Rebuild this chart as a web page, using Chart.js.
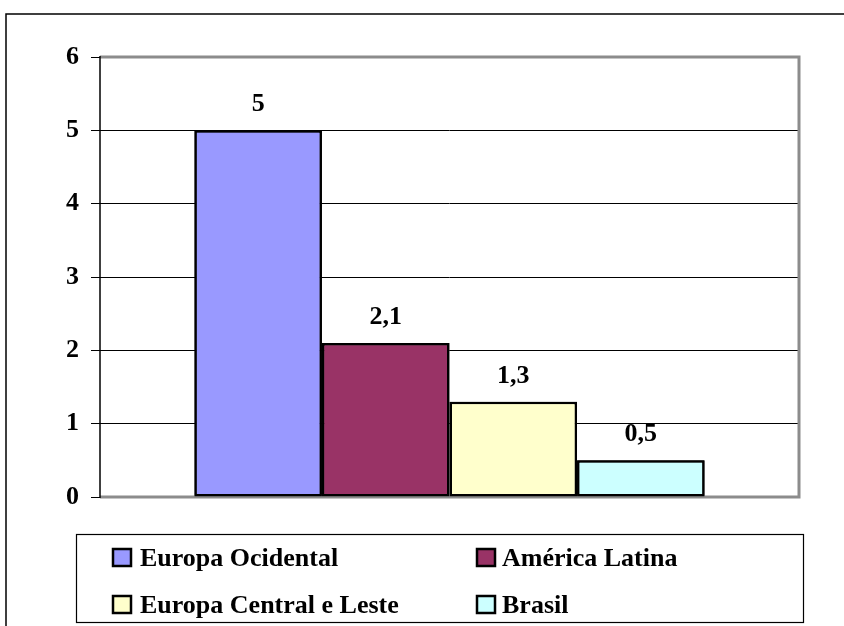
<!DOCTYPE html>
<html>
<head>
<meta charset="utf-8">
<script src="https://cdn.jsdelivr.net/npm/chart.js@4"></script>
<style>
html,body{margin:0;padding:0;background:#fff;}
#wrap{width:844px;height:626px;position:relative;}
</style>
</head>
<body>
<div id="wrap"><canvas id="c" width="844" height="626"></canvas></div>
<script>
const categories = [''];
const seriesNames = ['Europa Ocidental', 'América Latina', 'Europa Central e Leste', 'Brasil'];
const seriesValues = [5, 2.1, 1.3, 0.5];
const valueLabels = ['5', '2,1', '1,3', '0,5'];
const seriesColors = ['#9999FF', '#993366', '#FFFFCC', '#CCFFFF'];
const yTicks = [0, 1, 2, 3, 4, 5, 6];

const FONT = "'Liberation Serif', 'Times New Roman', serif";

const datasets = seriesNames.map((n, i) => ({
  label: n,
  data: [seriesValues[i]],
  backgroundColor: seriesColors[i],
  borderColor: '#000',
  borderWidth: 2.5,
  borderSkipped: false,
  categoryPercentage: 0.73,
  barPercentage: 1.0
}));

const decor = {
  id: 'decor',
  beforeDraw(chart) {
    const ctx = chart.ctx;
    ctx.save();
    ctx.fillStyle = '#fff';
    ctx.fillRect(0, 0, chart.width, chart.height);
    ctx.strokeStyle = '#000';
    ctx.lineWidth = 1.5;
    ctx.beginPath();
    ctx.moveTo(6, 626);
    ctx.lineTo(6, 14);
    ctx.lineTo(844, 14);
    ctx.stroke();
    ctx.restore();
  },
  afterDatasetsDraw(chart) {
    const ctx = chart.ctx;
    const a = chart.chartArea;
    ctx.save();
    ctx.strokeStyle = '#8c8c8c';
    ctx.lineWidth = 3;
    ctx.beginPath();
    ctx.moveTo(a.left, a.top);
    ctx.lineTo(a.right, a.top);
    ctx.lineTo(a.right, a.bottom);
    ctx.lineTo(a.left, a.bottom);
    ctx.stroke();
    chart.data.datasets.forEach((ds, i) => {
      chart.getDatasetMeta(i).data.forEach(el => el.draw(ctx));
    });
    ctx.strokeStyle = '#000';
    ctx.lineWidth = 1.5;
    ctx.beginPath();
    ctx.moveTo(a.left, a.top - 1);
    ctx.lineTo(a.left, a.bottom + 1);
    ctx.stroke();
    ctx.fillStyle = '#000';
    ctx.font = 'bold 26px ' + FONT;
    ctx.textAlign = 'center';
    ctx.textBaseline = 'alphabetic';
    chart.data.datasets.forEach((ds, i) => {
      const el = chart.getDatasetMeta(i).data[0];
      ctx.fillText(valueLabels[i], el.x, el.y - 19);
    });
    ctx.strokeStyle = '#000';
    ctx.lineWidth = 1.2;
    ctx.strokeRect(76.5, 534.5, 727, 88);
    const pos = [[113, 549, 140, 566], [477, 549, 502, 566], [113, 596, 140, 613], [477, 596, 502, 613]];
    ctx.textAlign = 'left';
    ctx.font = 'bold 26px ' + FONT;
    chart.data.datasets.forEach((ds, i) => {
      const p = pos[i];
      ctx.fillStyle = ds.backgroundColor;
      ctx.fillRect(p[0], p[1], 18, 17);
      ctx.lineWidth = 2.5;
      ctx.strokeStyle = '#000';
      ctx.strokeRect(p[0], p[1], 18, 17);
      ctx.fillStyle = '#000';
      ctx.fillText(ds.label, p[2], p[3]);
    });
    ctx.restore();
  }
};

new Chart(document.getElementById('c'), {
  type: 'bar',
  data: { labels: categories, datasets },
  options: {
    responsive: false,
    animation: false,
    layout: { padding: { left: 0, top: 57, right: 45, bottom: 129 } },
    plugins: { legend: { display: false }, tooltip: { enabled: false } },
    scales: {
      x: { display: false },
      y: {
        min: yTicks[0],
        max: yTicks[yTicks.length - 1],
        afterFit(s) { s.width = 100; },
        afterBuildTicks(s) { s.ticks = yTicks.map(v => ({ value: v })); },
        ticks: {
          stepSize: 1,
          padding: 12,
          color: '#000',
          font: { family: FONT, size: 26, weight: 'bold' }
        },
        grid: {
          color: c => (c.tick && (c.tick.value === yTicks[0] || c.tick.value === yTicks[yTicks.length - 1])) ? 'rgba(0,0,0,0)' : '#000',
          tickColor: '#000',
          lineWidth: 1,
          tickLength: 9
        },
        border: { display: false }
      }
    }
  },
  plugins: [decor]
});
</script>
</body>
</html>
